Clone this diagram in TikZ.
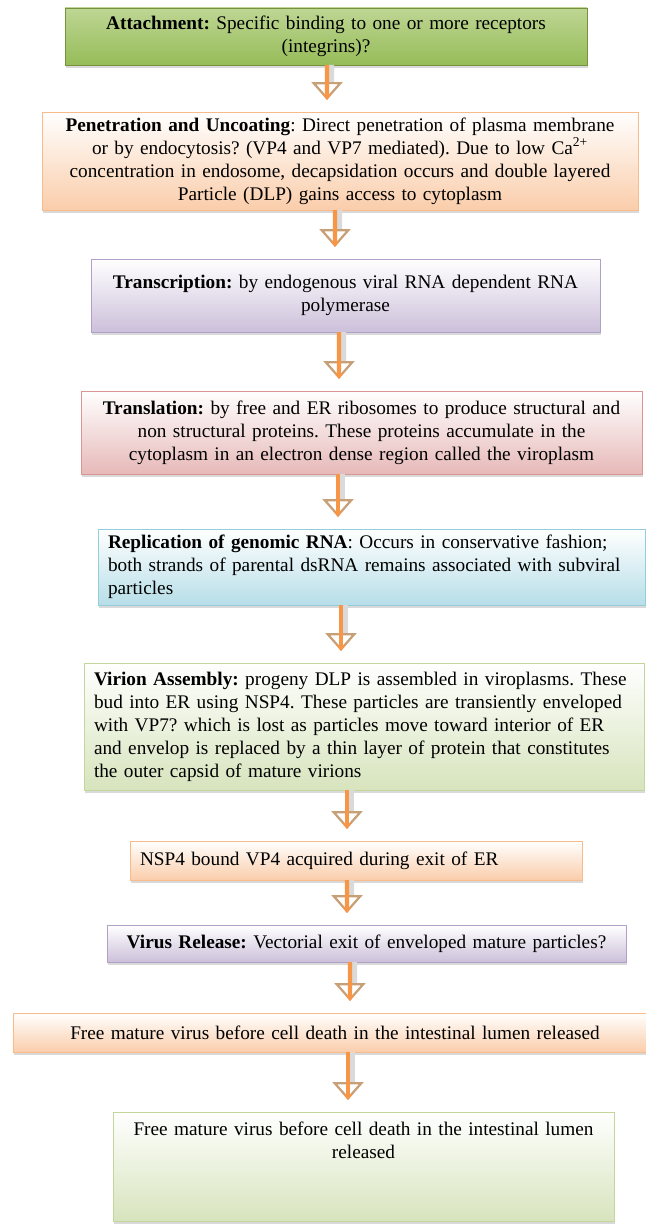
\documentclass[tikz,border=0pt]{standalone}
\usepackage{fontspec}
\setmainfont{Liberation Serif}
\usepackage{xcolor}
\usepackage{tikz}
\usetikzlibrary{arrows.meta,positioning,shadows}
\frenchspacing
\hyphenpenalty=10000
\definecolor{atttop}{RGB}{190,214,148}
\definecolor{attbot}{RGB}{150,188,88}
\definecolor{attline}{RGB}{118,146,60}
\definecolor{penbot}{RGB}{250,205,170}
\definecolor{penline}{RGB}{248,188,140}
\definecolor{trabot}{RGB}{204,192,218}
\definecolor{traline}{RGB}{178,161,199}
\definecolor{tslbot}{RGB}{230,185,184}
\definecolor{tslline}{RGB}{217,150,149}
\definecolor{repbot}{RGB}{183,222,232}
\definecolor{repline}{RGB}{147,205,221}
\definecolor{virbot}{RGB}{215,228,189}
\definecolor{virline}{RGB}{195,214,155}
\definecolor{arrorange}{RGB}{247,150,70}
\definecolor{arrtan}{RGB}{200,160,120}
\definecolor{arrgray}{RGB}{218,218,218}

\begin{document}
\begin{tikzpicture}[
  every node/.style={font=\fontsize{13.7}{16.4}\selectfont, inner xsep=0.25cm, inner ysep=0.05cm},
  box/.style={line width=0.7pt, outer sep=0pt, drop shadow={shadow xshift=0.03cm, shadow yshift=-0.07cm, opacity=0.3}},
  attach/.style={box, draw=attline, top color=atttop, bottom color=attbot, align=center},
  orangeStep/.style={box, draw=penline, top color=white, bottom color=penbot},
  purpleStep/.style={box, draw=traline, top color=white, bottom color=trabot},
  redStep/.style={box, draw=tslline, top color=white, bottom color=tslbot},
  blueStep/.style={box, draw=repline, top color=white, bottom color=repbot},
  greenStep/.style={box, draw=virline, top color=white, bottom color=virbot},
  arr/.style={
    preaction={draw=arrgray, line width=0.15cm, shorten >=0.45cm, transform canvas={xshift=0.1cm}},
    preaction={draw=arrtan, line width=0.1pt, -{Triangle[length=0.45cm, width=0.78cm, fill=white, line width=1.6pt]}},
    draw=arrorange, line width=0.11cm, shorten >=0.3cm, -{Triangle[length=0.15cm, width=0.22cm]}}
]
\useasboundingbox (0,0) rectangle (16.15,-30.6);

\node[attach, text width=12.55cm, minimum height=1.425cm] (att) at (8.15,-0.9125)
  {\textbf{Attachment:} Specific binding to one or more receptors\\(integrins)?};
\node[orangeStep, align=center, text width=14.4cm, minimum height=2.45cm, below=1.175cm of att, xshift=0.35cm] (pen)
  {\textbf{Penetration and Uncoating}: Direct penetration of plasma membrane\\or by endocytosis? (VP4 and VP7 mediated). Due to low Ca\textsuperscript{2+}\\concentration in endosome, decapsidation occurs and double layered\\Particle (DLP) gains access to cytoplasm};
\node[purpleStep, align=center, text width=12.225cm, minimum height=1.825cm, below=1.225cm of pen, xshift=0.1375cm] (tra)
  {\textbf{Transcription:} by endogenous viral RNA dependent RNA\\polymerase};
\node[redStep, align=center, text width=13.525cm, minimum height=2.075cm, below=1.475cm of tra, xshift=0.4cm] (tsl)
  {\textbf{Translation:} by free and ER ribosomes to produce structural and\\non structural proteins. These proteins accumulate in the\\cytoplasm in an electron dense region called the viroplasm};
\node[blueStep, align=left, text width=13.175cm, minimum height=1.9cm, below=1.375cm of tsl, xshift=0.25cm] (rep)
  {\textbf{Replication of genomic RNA}: Occurs in conservative fashion;\\both strands of parental dsRNA remains associated with subviral\\particles};
\node[greenStep, align=left, text width=13.5cm, minimum height=3.175cm, below=1.45cm of rep, xshift=-0.1875cm] (vir)
  {\textbf{Virion Assembly:} progeny DLP is assembled in viroplasms. These\\bud into ER using NSP4. These particles are transiently enveloped\\with VP7? which is lost as particles move toward interior of ER\\and envelop is replaced by a thin layer of protein that constitutes\\the outer capsid of mature virions};
\node[orangeStep, align=left, text width=10.8cm, minimum height=0.975cm, below=1.275cm of vir, xshift=-0.2cm] (nsp)
  {NSP4 bound VP4 acquired during exit of ER};
\node[purpleStep, align=center, text width=12.475cm, minimum height=0.925cm, below=1.125cm of nsp, xshift=0.2625cm] (rel)
  {\textbf{Virus Release:} Vectorial exit of enveloped mature particles?};
\node[orangeStep, align=center, text width=15.6cm, minimum height=0.975cm, below=1.275cm of rel, xshift=-0.7875cm] (free)
  {Free mature virus before cell death in the intestinal lumen released};
\node[greenStep, align=center, text width=12.025cm, text height=0.525cm, text depth=2.1cm, below=1.5cm of free, xshift=0.7125cm] (fin)
  {Free mature virus before cell death in the intestinal lumen\\released};

\draw[arr] ([xshift=0.025cm]att.south) -- ([xshift=-0.325cm]pen.north);
\draw[arr] ([xshift=-0.125cm]pen.south) -- ([xshift=-0.2625cm]tra.north);
\draw[arr] ([xshift=-0.1625cm]tra.south) -- ([xshift=-0.5625cm]tsl.north);
\draw[arr] ([xshift=-0.5875cm]tsl.south) -- ([xshift=-0.8375cm]rep.north);
\draw[arr] ([xshift=-0.7625cm]rep.south) -- ([xshift=-0.575cm]vir.north);
\draw[arr] ([xshift=-0.425cm]vir.south) -- ([xshift=-0.225cm]nsp.north);
\draw[arr] ([xshift=-0.225cm]nsp.south) -- ([xshift=-0.4875cm]rel.north);
\draw[arr] ([xshift=-0.4125cm]rel.south) -- ([xshift=0.375cm]free.north);
\draw[arr] ([xshift=0.325cm]free.south) -- ([xshift=-0.3875cm]fin.north);
\end{tikzpicture}
\end{document}
